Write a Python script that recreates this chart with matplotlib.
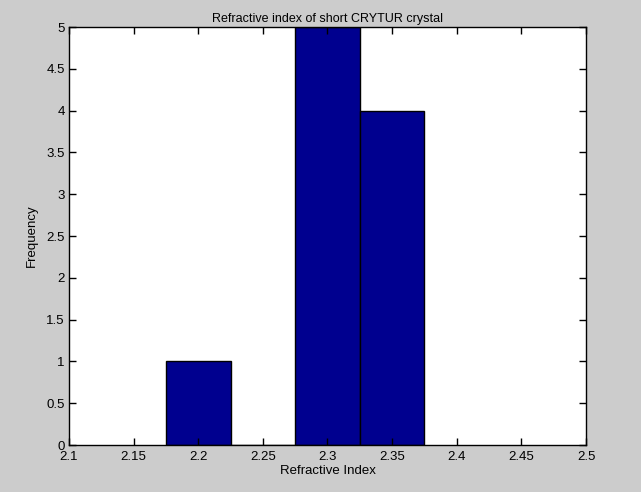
import matplotlib
matplotlib.use('Agg')
import matplotlib.pyplot as plt
import numpy as np

bin_centers = [2.2, 2.25, 2.3, 2.35]
counts = [1, 0, 5, 4]
bin_width = 0.05
xticks = [2.1, 2.15, 2.2, 2.25, 2.3, 2.35, 2.4, 2.45, 2.5]
xticklabels = ['2.1', '2.15', '2.2', '2.25', '2.3', '2.35', '2.4', '2.45', '2.5']
yticks = [0, 0.5, 1, 1.5, 2, 2.5, 3, 3.5, 4, 4.5, 5]
yticklabels = ['0', '0.5', '1', '1.5', '2', '2.5', '3', '3.5', '4', '4.5', '5']

plt.rcParams['font.family'] = ['Liberation Sans', 'DejaVu Sans']
plt.rcParams['font.size'] = 9.5

fig = plt.figure(figsize=(6.41, 4.92), dpi=100, facecolor='#cccccc')
ax = fig.add_axes([0.1076, 0.0955, 0.8066, 0.8495])
ax.set_facecolor('white')

ax.bar(bin_centers, counts, width=bin_width, color='#00008f', edgecolor='black', linewidth=1.0)

ax.set_xlim(2.1, 2.5)
ax.set_ylim(0, 5)
ax.set_xticks(xticks)
ax.set_xticklabels(xticklabels)
ax.set_yticks(yticks)
ax.set_yticklabels(yticklabels)
ax.tick_params(direction='in', top=True, right=True, length=5, width=1, colors='black')
ax.tick_params(axis='x', pad=4)
ax.tick_params(axis='y', pad=3)
for s in ax.spines.values():
    s.set_linewidth(1)

ax.set_title('Refractive index of short CRYTUR crystal', fontsize=9, pad=4)
ax.set_xlabel('Refractive Index', labelpad=2)
ax.set_ylabel('Frequency', labelpad=6)

fig.savefig('out.png', dpi=100, facecolor=fig.get_facecolor())
